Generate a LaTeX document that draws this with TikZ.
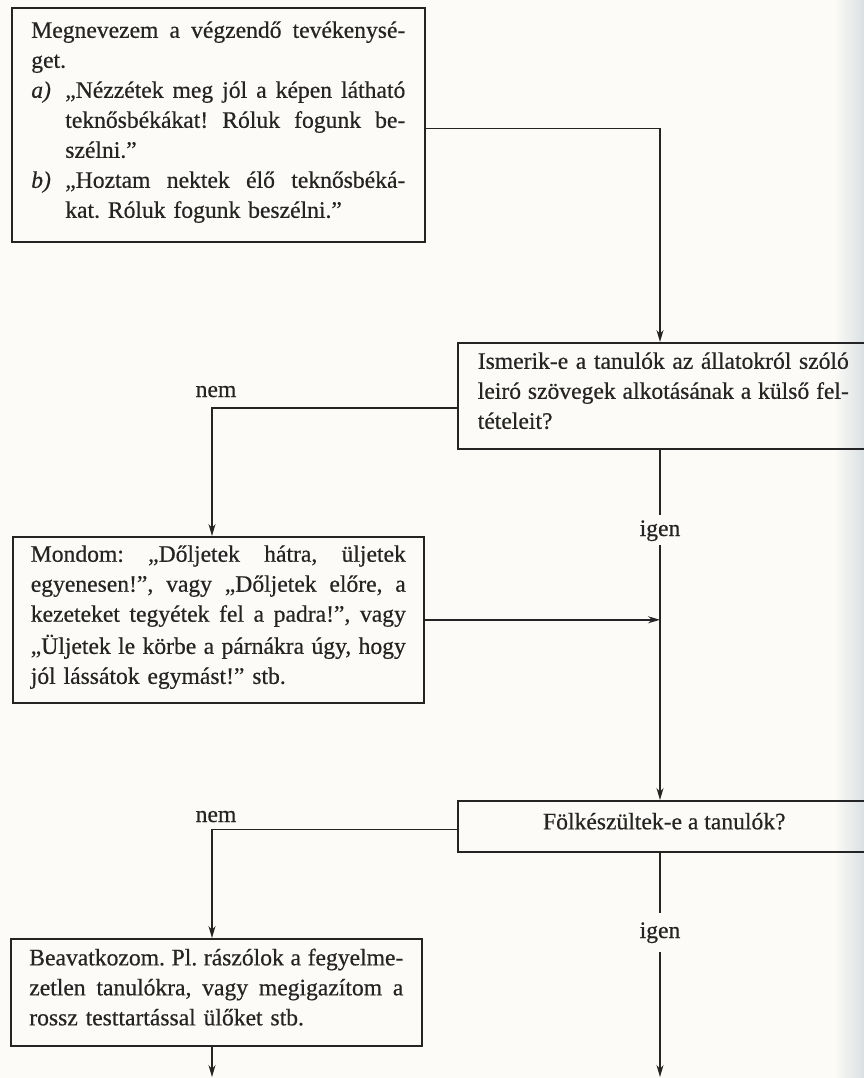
\documentclass[tikz,border=0pt]{standalone}
\usepackage{fontspec}
\setmainfont{Liberation Serif}[FakeBold=0.5]
\usetikzlibrary{arrows.meta,calc}

\definecolor{inkc}{RGB}{36,36,36}
\definecolor{paper}{RGB}{252,251,247}
\definecolor{edge}{RGB}{218,224,226}

\newcommand\bodyfont{\fontsize{23.6}{30}\selectfont\frenchspacing}
% invisible strut: fixes the height and depth of every printed line
\newcommand\sst{\rule[-12pt]{0pt}{30pt}}
% stretchable inter-word spaces inside a line box
\newcommand\freespace{\spaceskip=0pt\xspaceskip=0pt\relax}
% justified line of a given width
\newcommand\jline[2]{\makebox[#1][s]{\freespace\sst #2}}
% plain (ragged) line
\newcommand\pline[1]{\sst #1}
% list item line: italic label, then a justified line
\newcommand\iline[2]{\sst\makebox[34pt][l]{\itshape #1}\makebox[340pt][s]{\freespace #2}}
% continuation line of a list item
\newcommand\hangl[1]{\sst\hspace*{34pt}#1}

\begin{document}
\begin{tikzpicture}[x=1pt,y=-1pt,
  box/.style={draw=inkc, line width=1.6pt, anchor=north west, inner ysep=0pt,
              align=left, text=inkc, font=\bodyfont},
  flow/.style={draw=inkc, line width=1.4pt},
  arr/.style={flow, -{Stealth[length=12pt,width=7pt]}},
  lbl/.style={text=inkc, font=\bodyfont, inner sep=0pt}]

\useasboundingbox (0,0) rectangle (864,1078);
\clip (0,0) rectangle (864,1078);
\fill[paper] (0,0) rectangle (864,1078);
\shade[left color=paper, right color=edge] (834,0) rectangle (864,1078);

% ---- steps and questions ----
\node[box, text width=374pt, inner xsep=19.5pt, minimum height=234pt] (task) at (11,7) {%
\jline{374pt}{Megnevezem a végzendő tevékenysé-}\\
\pline{get.}\\
\iline{a)}{„Nézzétek meg jól a képen látható}\\
\iline{}{teknősbékákat! Róluk fogunk be-}\\
\hangl{szélni.”}\\
\iline{b)}{„Hoztam nektek élő teknősbéká-}\\
\hangl{kat. Róluk fogunk beszélni.”}};

\node[box, text width=371pt, inner xsep=20pt, minimum height=106pt] (know) at (457,342) {%
\jline{371pt}{Ismerik-e a tanulók az állatokról szóló}\\
\jline{371pt}{leiró szövegek alkotásának a külső fel-}\\
\pline{tételeit?}};

\node[box, text width=375pt, inner xsep=18pt, minimum height=166pt] (say) at (12,536) {%
\jline{375pt}{Mondom: „Dőljetek hátra, üljetek}\\
\jline{375pt}{egyenesen!”, vagy „Dőljetek előre, a}\\
\jline{375pt}{kezeteket tegyétek fel a padra!”, vagy}\\
\jline{375pt}{„Üljetek le körbe a párnákra úgy, hogy}\\
\pline{jól lássátok egymást!” stb.}};

\node[box, minimum width=413pt, minimum height=51pt, inner xsep=0pt, align=center] (ready) at (457,800)
  {\sst Fölkészültek-e a tanulók?};

\node[box, text width=374pt, inner xsep=18.5pt, minimum height=107pt] (act) at (10,938) {%
\jline{374pt}{Beavatkozom. Pl. rászólok a fegyelme-}\\
\jline{374pt}{zetlen tanulókra, vagy megigazítom a}\\
\pline{rossz testtartással ülőket stb.}};

% ---- branch labels ----
\node[lbl, anchor=base] (no1) at (216,397) {nem};
\node[lbl, anchor=base] (no2) at (216,822) {nem};
\node[lbl, anchor=base, text height=21pt, text depth=9pt] (yes1) at (660,536) {igen};
\node[lbl, anchor=base, text height=25pt, text depth=14pt] (yes2) at (660,938) {igen};

% ---- guide coordinates ----
\coordinate (trunk) at (660,0);
\coordinate (left1) at (212,0);
\coordinate (end1) at (212,1077);
\coordinate (end2) at (660,1077);

% ---- connectors ----
\draw[arr] ([yshift=-4pt]task.east) -| (know.north -| trunk);
\draw[arr] ([yshift=-12pt]know.west) -| (say.north -| left1);
\draw[arr] (say.east) -- (say.east -| trunk);
\draw[flow] (know.south -| trunk) -- (yes1.north);
\draw[arr] (yes1.south) -- (ready.north -| trunk);
\draw[arr] ([yshift=-3pt]ready.west) -| (act.north -| left1);
\draw[flow] (ready.south -| trunk) -- (yes2.north);
\draw[arr] (yes2.south) -- (end2);
\draw[arr] (act.south -| left1) -- (end1);
\end{tikzpicture}
\end{document}
